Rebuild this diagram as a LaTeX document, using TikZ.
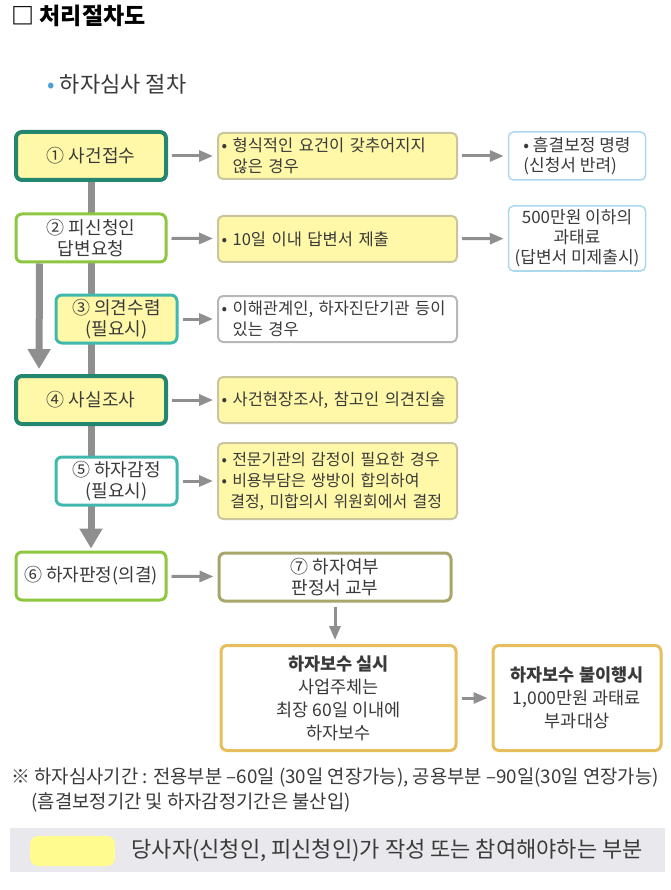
\documentclass[tikz,border=0pt]{standalone}
\usepackage{fontspec}
\setmainfont{Noto Sans CJK KR}
\usetikzlibrary{arrows.meta,backgrounds}
\definecolor{ink}{HTML}{3A3A3A}
\definecolor{boxyellow}{HTML}{FFF8A8}
\definecolor{keyyellow}{HTML}{FFFB8E}
\definecolor{darkteal}{HTML}{23876F}
\definecolor{leafgreen}{HTML}{8DC63F}
\definecolor{aqua}{HTML}{3FB8AE}
\definecolor{notegray}{HTML}{C9C59E}
\definecolor{plaingray}{HTML}{B8B8B8}
\definecolor{skyblue}{HTML}{A9D9EA}
\definecolor{olive}{HTML}{A9A56B}
\definecolor{gold}{HTML}{E6BF5C}
\definecolor{arrowgray}{HTML}{8F8F8F}
\definecolor{bandgray}{HTML}{E9E9ED}
\definecolor{bulletblue}{HTML}{4A9FD8}
\begin{document}
\begin{tikzpicture}
%[x=1pt,y=-1pt,every node/.style={font=\small}]
 [x=1pt,y=-1pt,every node/.style={text=ink,font=\fontsize{18}{21}\selectfont},
  stepbox/.style={draw,rounded corners=6pt,align=center,inner sep=2pt,minimum height=48pt},
  mainbox/.style={stepbox,fill=boxyellow,draw=darkteal,line width=4pt,minimum width=150pt},
  greenbox/.style={stepbox,fill=white,draw=leafgreen,line width=3pt,minimum width=150pt},
  tealbox/.style={stepbox,draw=aqua,line width=3pt,minimum width=121pt},
  notebox/.style={draw,rounded corners=5pt,align=left,text width=232pt,inner xsep=3.5pt,minimum height=46pt,line width=2pt,font=\fontsize{16.5}{21}\selectfont},
  resultbox/.style={draw=skyblue,rounded corners=5pt,line width=1.5pt,minimum width=137pt,minimum height=48pt,font=\fontsize{17}{20}\selectfont},
  endbox/.style={stepbox,fill=white,draw=gold,line width=3pt,minimum height=105pt,font=\fontsize{17.5}{23}\selectfont},
  smallarrow/.style={draw=arrowgray,line width=3pt,-{Triangle[width=11pt,length=14pt]},shorten <=4pt,shorten >=4pt},
  bigarrow/.style={draw=arrowgray,line width=7pt,-{Triangle[width=22pt,length=20pt]}}]
  \useasboundingbox (0,0) rectangle (670,890);
  \node[anchor=west,text=black,font=\fontsize{23}{26}\selectfont\bfseries] (title) at (8,16) {□ 처리절차도};
  \node[anchor=west,font=\fontsize{22}{24}\selectfont] (sub) at (44,84) {{\color{bulletblue}•} 하자심사 절차};
  % left column
  \node[mainbox] (n1) at (91,156) {① 사건접수};
  \node[greenbox] (n2) at (91,238) {② 피신청인\\답변요청};
  \node[tealbox,fill=boxyellow] (n3) at (116.5,319) {③ 의견수렴\\(필요시)};
  \node[mainbox] (n4) at (91,400) {④ 사실조사};
  \node[tealbox,fill=white] (n5) at (116.5,481) {⑤ 하자감정\\(필요시)};
  \node[greenbox] (n6) at (91,576) {⑥ 하자판정(의결)};
  % middle column
  \node[notebox,fill=boxyellow,draw=notegray] (m1) at (337.5,156) {• 형식적인 요건이 갖추어지지\\\hphantom{• }않은 경우};
  \node[notebox,fill=boxyellow,draw=notegray] (m2) at (337.5,239) {• 10일 이내 답변서 제출};
  \node[notebox,fill=white,draw=plaingray] (m3) at (337.5,319) {• 이해관계인, 하자진단기관 등이\\\hphantom{• }있는 경우};
  \node[notebox,fill=boxyellow,draw=notegray] (m4) at (337.5,400) {• 사건현장조사, 참고인 의견진술};
  \node[notebox,fill=boxyellow,draw=notegray,minimum height=76pt,font=\fontsize{16}{21}\selectfont] (m5) at (337.5,481) {• 전문기관의 감정이 필요한 경우\\• 비용부담은 쌍방이 합의하여\\\hspace*{0.55em}결정, 미합의시 위원회에서 결정};
  \node[stepbox,fill=white,draw=olive,line width=3pt,minimum width=232pt] (n7) at (335,577) {⑦ 하자여부\\판정서 교부};
  % right column
  \node[resultbox,align=left] (r1) at (577,156) {• 흠결보정 명령\\(신청서 반려)};
  \node[resultbox,align=center,minimum height=65pt] (r2) at (577,238.5) {500만원 이하의\\과태료\\(답변서 미제출시)};
  % bottom
  \node[endbox,minimum width=235pt] (b1) at (338.5,698) {\textbf{하자보수 실시}\\사업주체는\\최장 60일 이내에\\하자보수};
  \node[endbox,minimum width=168pt] (b2) at (577,698) {\textbf{하자보수 불이행시}\\1,000만원 과태료\\부과대상};
  \foreach \from/\to in {n1/m1,n2/m2,n3/m3,n4/m4,n5/m5,m1/r1,m2/r2,n6/n7,b1/b2}
    \draw[smallarrow] (\from) -- (\to);
  \draw[smallarrow] (n7.south) -- (n7.south |- b1.north);
  \draw[bigarrow,shorten >=5pt] ([xshift=25pt]n2.south west) -- ([xshift=25pt]n4.north west);
  \begin{pgfonlayer}{background}
    \draw[bigarrow,shorten >=2pt] (n1.south) -- (n6.north);
  \end{pgfonlayer}
  % notes and key
  \node[anchor=west,font=\fontsize{18.8}{20}\selectfont] (note1) at (8,778) {※ 하자심사기간 : 전용부분 –60일 (30일 연장가능), 공용부분 –90일(30일 연장가능)};
  \node[anchor=west,font=\fontsize{18.8}{20}\selectfont] (note2) at (28,802) {(흠결보정기간 및 하자감정기간은 불산입)};
  \fill[bandgray] (10,828) rectangle (665,872);
  \fill[keyyellow,rounded corners=8pt] (30,836) rectangle (115,866);
  \node[anchor=west,font=\fontsize{22}{24}\selectfont] (key) at (128,851) {당사자(신청인, 피신청인)가 작성 또는 참여해야하는 부분};
\end{tikzpicture}
\end{document}
